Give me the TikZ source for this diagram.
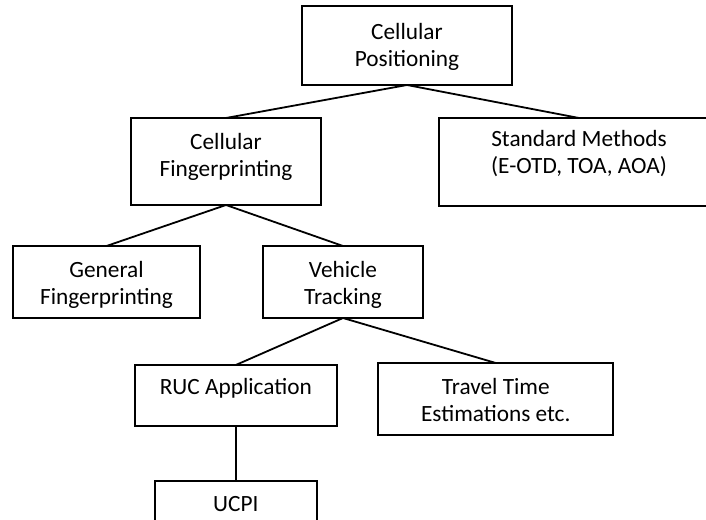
\documentclass[tikz,border=0pt]{standalone}
\usepackage{fontspec}
\setmainfont{Carlito}
\begin{document}
\begin{tikzpicture}[x=1pt,y=-1pt,
  box/.style={draw=black, line width=1.8pt, rectangle, inner sep=0pt, outer sep=0pt},
  txt/.style={align=center, font=\fontsize{23.3pt}{27pt}\selectfont, inner sep=0pt},
  link/.style={draw=black, line width=1.8pt}]
  \useasboundingbox (0,0) rectangle (706,519);
  \fill[white] (0,0) rectangle (706,519);
  \clip (0,0) rectangle (706,519);

  % boxes of the hierarchy
  \node[box, minimum width=210pt, minimum height=79pt,
        label={[txt, yshift=-1pt]center:Cellular\\Positioning}] (cp) at (407,45.5) {};
  \node[box, minimum width=190pt, minimum height=87pt,
        label={[txt, yshift=5pt]center:Cellular\\Fingerprinting}] (cf) at (226,161.5) {};
  \node[box, minimum width=280pt, minimum height=88pt,
        label={[txt, yshift=8pt]center:Standard Methods\\(E-OTD, TOA, AOA)}] (sm) at (579,162) {};
  \node[box, minimum width=187pt, minimum height=72pt,
        label={[txt, yshift=-3pt]center:General\\Fingerprinting}] (gf) at (106.5,282) {};
  \node[box, minimum width=160pt, minimum height=72pt,
        label={[txt, yshift=-3pt]center:Vehicle\\Tracking}] (vt) at (343,282) {};
  \node[box, minimum width=202pt, minimum height=61pt,
        label={[txt, yshift=7pt]center:RUC Application}] (ruc) at (235.8,395.5) {};
  \node[box, minimum width=235pt, minimum height=72pt,
        label={[txt, yshift=-1pt]center:Travel Time\\Estimations etc.}] (tt) at (495.8,399) {};
  \node[box, minimum width=162pt, minimum height=46pt,
        label={[txt]center:UCPI}] (ucpi) at (235.8,504) {};

  % connectors
  \draw[link] (cp.south) -- (cf.north);
  \draw[link] (cp.south) -- (sm.north);
  \draw[link] (cf.south) -- (gf.north);
  \draw[link] (cf.south) -- (vt.north);
  \draw[link] (vt.south) -- (ruc.north);
  \draw[link] (vt.south) -- (tt.north);
  \draw[link] (ruc.south) -- (ucpi.north);
\end{tikzpicture}
\end{document}
